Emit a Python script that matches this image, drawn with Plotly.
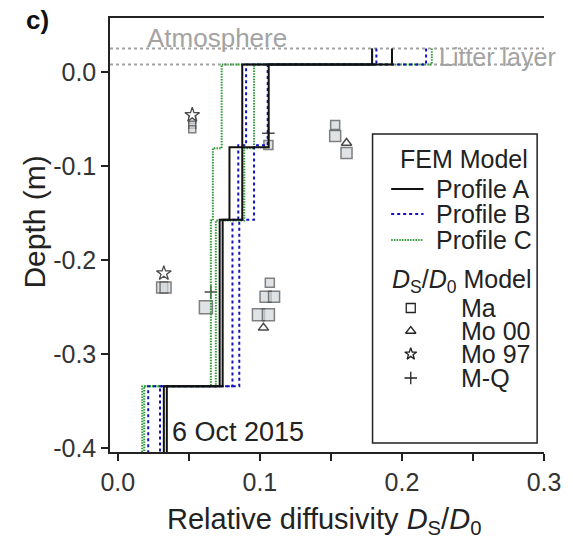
import plotly.graph_objects as go

FONT = "Liberation Sans, Arial, sans-serif"

# ---------------- data ----------------
litter_top = 0.025        # atmosphere / litter boundary (m)
soil_surface = 0.008      # litter / soil boundary (m)
profile_bottom = -0.405

# FEM model step profiles: value per layer (litter, L1, L2, L3, L4)
A_bounds = [-0.080, -0.157, -0.334]
A_low = [0.179, 0.0876, 0.0786, 0.0717, 0.0324]
A_high = [0.193, 0.1062, 0.0876, 0.0738, 0.0345]

B_bounds = [-0.078, -0.157, -0.334]
B_low = [0.182, 0.0903, 0.0848, 0.0807, 0.0214]
B_high = [0.217, 0.1055, 0.0959, 0.0855, 0.0297]

C_bounds = [-0.081, -0.158, -0.334]
C_low = [0.179, 0.0731, 0.0669, 0.0655, 0.0172]
C_high = [0.221, 0.0959, 0.0890, 0.0690, 0.0186]

# Ds/D0 model points
Ma_x = [0.0524, 0.0524, 0.0524, 0.106, 0.153, 0.153, 0.161, 0.0312, 0.0336,
        0.062, 0.107, 0.104, 0.110, 0.099, 0.106]
Ma_y = [-0.051, -0.056, -0.061, -0.0777, -0.0564, -0.068, -0.086, -0.229, -0.229,
        -0.250, -0.224, -0.239, -0.239, -0.258, -0.258]
Mo00_x = [0.161, 0.1025]
Mo00_y = [-0.0755, -0.272]
Mo97_x = [0.0524, 0.0324]
Mo97_y = [-0.0457, -0.214]
MQ_x = [0.106, 0.0655]
MQ_y = [-0.065, -0.234]

y_ticks = [0.0, -0.1, -0.2, -0.3, -0.4]
y_labels = ["0.0", "-0.1", "-0.2", "-0.3", "-0.4"]
x_ticks = [0.0, 0.1, 0.2, 0.3]
x_labels = ["0.0", "0.1", "0.2", "0.3"]
x_minor_ticks = [0.05, 0.15, 0.25]

# ---------------- layout geometry (pixels) ----------------
W, H = 573, 548
PL, PR, PT, PB = 110, 553, 18, 452


def px(x):
    return (x - PL) / (PR - PL)


def py(y):
    return (PB - y) / (PB - PT)


def steps(vals, bounds):
    edges = [litter_top, soil_surface] + bounds + [profile_bottom]
    xs, ys = [], []
    for i, v in enumerate(vals):
        xs += [v, v]
        ys += [edges[i], edges[i + 1]]
    return xs, ys


BLACK = "#111111"
BLUE = "#1212c4"
GREEN = "#2f9a36"
GRAY = "#a3a3a3"
MFILL = "#d3d8dc"
MLINE = "#4a4a4a"
TXT = "#222222"

# marker sizes (style) for the Ma points
Ma_sizes = [7, 7, 7, 9, 9, 11, 11, 11, 11, 13, 9, 11, 11, 12, 12]

fig = go.Figure()

# markers (below the lines)
fig.add_trace(go.Scatter(x=Ma_x, y=Ma_y, mode="markers",
                         marker=dict(symbol="square", size=Ma_sizes, color=MFILL,
                                     line=dict(color=MLINE, width=1.5))))
fig.add_trace(go.Scatter(x=Mo00_x, y=Mo00_y, mode="markers",
                         marker=dict(symbol="triangle-up", size=9, color="white",
                                     line=dict(color=MLINE, width=1.5))))
fig.add_trace(go.Scatter(x=Mo97_x, y=Mo97_y, mode="markers",
                         marker=dict(symbol="star", size=11, color="white",
                                     line=dict(color=MLINE, width=1.3))))
fig.add_trace(go.Scatter(x=MQ_x, y=MQ_y, mode="markers",
                         marker=dict(symbol="cross-thin", size=9,
                                     line=dict(color=MLINE, width=1.5))))

styles = [
    (C_low, C_bounds, GREEN, "1.5px,1.2px"),
    (C_high, C_bounds, GREEN, "1.5px,1.2px"),
    (B_low, B_bounds, BLUE, "3px,3px"),
    (B_high, B_bounds, BLUE, "3px,3px"),
    (A_low, A_bounds, BLACK, "solid"),
    (A_high, A_bounds, BLACK, "solid"),
]
for vals, bnds, col, dash in styles:
    xs, ys = steps(vals, bnds)
    fig.add_trace(go.Scatter(x=xs, y=ys, mode="lines",
                             line=dict(color=col, width=2, dash=dash)))

# legend glyphs on an overlay axis matching paper coordinates
leg_rows = [308, 331, 354, 378]
leg_syms = ["square", "triangle-up", "star", "cross-thin"]
for sym, yy in zip(leg_syms, leg_rows):
    fig.add_trace(go.Scatter(x=[px(417)], y=[py(yy)], xaxis="x2", yaxis="y2",
                             mode="markers",
                             marker=dict(symbol=sym, size=9, color="white",
                                         line=dict(color="#222", width=1.3))))

shapes = []
# atmosphere / litter dotted lines
for d in (litter_top, soil_surface):
    shapes.append(dict(type="line", xref="paper", yref="y", x0=0, x1=1, y0=d, y1=d,
                       line=dict(color=GRAY, width=2, dash="3px,3px"), layer="below"))
# legend box
shapes.append(dict(type="rect", xref="paper", yref="paper",
                   x0=px(378), x1=px(546), y0=py(443), y1=py(134),
                   line=dict(color="#222", width=1.5), fillcolor="white", layer="below"))
# legend line samples
for yy, col, dash in [(189, BLACK, "solid"), (214, BLUE, "3px,3px"), (240, GREEN, "1.5px,1.2px")]:
    shapes.append(dict(type="line", xref="paper", yref="paper",
                       x0=px(397), x1=px(430), y0=py(yy), y1=py(yy),
                       line=dict(color=col, width=2, dash=dash), layer="above"))

ann = []


def txt(x, y, s, size=25, anchor="left", color=TXT, **kw):
    ann.append(dict(x=px(x), y=py(y), xref="paper", yref="paper", text=s,
                    showarrow=False, xanchor=anchor, yanchor="middle",
                    font=dict(family=FONT, size=size, color=color), **kw))


txt(471, 159, "FEM Model", anchor="center")
txt(441, 189, "Profile A")
txt(441, 214, "Profile B")
txt(441, 240, "Profile C")
txt(469, 281, "<i>D</i><sub>S</sub>/<i>D</i><sub>0</sub> Model", anchor="center")
for name, yy in zip(["Ma", "Mo 00", "Mo 97", "M-Q"], leg_rows):
    txt(466, yy, name)
txt(171, 432, "6 Oct 2015", size=27)
txt(146, 38, "Atmosphere", size=26, color=GRAY)
txt(444, 57, "Litter layer", size=25, color=GRAY)
txt(22, 20, "<b>c)</b>", size=26, color="#111")
txt(328, 521, "Relative diffusivity <i>D</i><sub>S</sub>/<i>D</i><sub>0</sub>", size=29, anchor="center")
ann.append(dict(x=px(33), y=py(222), xref="paper", yref="paper", text="Depth (m)",
                showarrow=False, textangle=-90, xanchor="center", yanchor="middle",
                font=dict(family=FONT, size=30, color=TXT)))

axis_common = dict(showgrid=False, zeroline=False, showline=True, linecolor="#222",
                   linewidth=1.5, ticks="outside", ticklen=7, tickwidth=1.5,
                   tickcolor="#222", tickfont=dict(family=FONT, size=25, color="#333"))

fig.update_layout(
    width=W, height=H,
    margin=dict(l=PL, r=W - PR, t=PT, b=H - PB),
    paper_bgcolor="white", plot_bgcolor="white",
    showlegend=False,
    xaxis=dict(range=[-0.0055, 0.3], tickvals=x_ticks, ticktext=x_labels,
               mirror=True,
               minor=dict(tickvals=x_minor_ticks, ticks="outside", ticklen=7,
                          tickwidth=1.5, tickcolor="#222", showgrid=False),
               **axis_common),
    yaxis=dict(range=[-0.404, 0.0574], tickvals=y_ticks, ticktext=y_labels,
               **axis_common),
    xaxis2=dict(overlaying="x", range=[0, 1], visible=False),
    yaxis2=dict(overlaying="y", range=[0, 1], visible=False),
    shapes=shapes,
    annotations=ann,
)

fig.write_html("out.html")
